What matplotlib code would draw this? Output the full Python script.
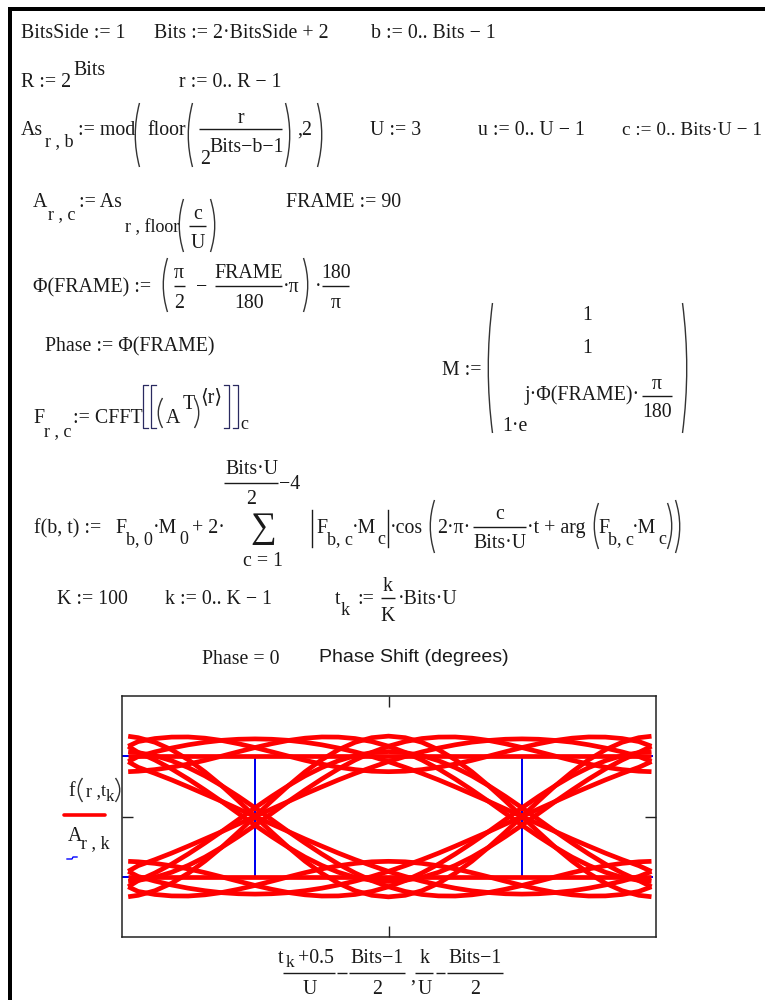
import matplotlib
matplotlib.use("Agg")
import matplotlib.pyplot as plt
from matplotlib.path import Path
from matplotlib.patches import PathPatch, Rectangle

plt.rcParams['font.family'] = ['Liberation Serif', 'DejaVu Serif', 'DejaVu Sans']

# ---- eye diagram values ----
x_grid = [-0.975, -0.9375, -0.875, -0.8125, -0.75, -0.6875, -0.625, -0.5625, -0.5,
          -0.4375, -0.375, -0.3125, -0.25, -0.1875, -0.125, -0.0625, 0.0,
          0.0625, 0.125, 0.1875, 0.25, 0.3125, 0.375, 0.4375, 0.5,
          0.5625, 0.625, 0.6875, 0.75, 0.8125, 0.875, 0.9375, 0.985]
f_0000 = [0.0] * 33
f_0001 = [-.083, -.122, -.147, -.159, -.160, -.150, -.131, -.104, -.072, -.037, -.001, .034, .065, .091, .111, .124, .128,
          .124, .111, .091, .065, .034, -.001, -.037, -.072, -.104, -.131, -.150, -.160, -.159, -.147, -.122, -.083]
f_0010 = [.128, .124, .111, .091, .065, .034, -.001, -.037, -.072, -.104, -.131, -.150, -.160, -.159, -.147, -.122, -.083,
          -.032, .031, .105, .189, .280, .375, .474, .572, .667, .756, .837, .906, .963, 1.005, 1.030, 1.039]
f_0011 = [.045, .002, -.036, -.068, -.095, -.116, -.132, -.141, -.144, -.141, -.132, -.116, -.095, -.068, -.036, .002, .045,
          .092, .142, .196, .254, .314, .374, .437, .500, .563, .625, .687, .746, .804, .858, .908, .956]
f_0100 = [-.083, -.032, .031, .105, .189, .280, .375, .474, .572, .667, .756, .837, .906, .963, 1.005, 1.030, 1.039,
          1.030, 1.005, .963, .906, .837, .756, .667, .572, .474, .375, .280, .189, .105, .031, -.032, -.083]
f_0101 = [-.166, -.154, -.116, -.054, .029, .130, .244, .370, .500, .630, .755, .871, .971, 1.054, 1.116, 1.154, 1.167,
          1.154, 1.116, 1.054, .971, .871, .755, .630, .500, .370, .244, .130, .029, -.054, -.116, -.154, -.166]
f_0110 = [.045, .092, .142, .196, .254, .314, .374, .437, .500, .563, .625, .687, .746, .804, .858, .908, .956,
          .998, 1.036, 1.068, 1.095, 1.117, 1.131, 1.141, 1.144, 1.141, 1.131, 1.117, 1.095, 1.068, 1.036, .998, .956]
f_0111 = [-.039, -.030, -.005, .037, .094, .163, .244, .333, .428, .526, .625, .720, .811, .895, .969, 1.032, 1.083,
          1.122, 1.147, 1.159, 1.160, 1.150, 1.131, 1.104, 1.072, 1.037, 1.001, .966, .935, .909, .889, .876, .872]
f_1000 = [1.039, 1.030, 1.005, .963, .906, .837, .756, .667, .572, .474, .375, .280, .189, .105, .031, -.032, -.083,
          -.122, -.147, -.159, -.160, -.150, -.131, -.104, -.072, -.037, -.001, .034, .065, .091, .111, .124, .128]
f_1001 = [.955, .908, .858, .804, .746, .686, .626, .563, .500, .437, .375, .313, .254, .196, .142, .092, .044,
          .002, -.036, -.068, -.095, -.117, -.131, -.141, -.144, -.141, -.131, -.117, -.095, -.068, -.036, .002, .044]
f_1010 = [1.166, 1.154, 1.116, 1.054, .971, .870, .756, .630, .500, .370, .245, .129, .029, -.054, -.116, -.154, -.167,
          -.154, -.116, -.054, .029, .129, .245, .370, .500, .630, .756, .870, .971, 1.054, 1.116, 1.154, 1.166]
f_1011 = [1.083, 1.032, .969, .895, .811, .720, .625, .526, .428, .333, .244, .163, .094, .037, -.005, -.030, -.039,
          -.030, -.005, .037, .094, .163, .244, .333, .428, .526, .625, .720, .811, .895, .969, 1.032, 1.083]
f_1100 = [.955, .998, 1.036, 1.068, 1.095, 1.116, 1.132, 1.141, 1.144, 1.141, 1.132, 1.116, 1.095, 1.068, 1.036, .998, .955,
          .908, .858, .804, .746, .686, .626, .563, .500, .437, .375, .313, .254, .196, .142, .092, .044]
f_1101 = [.872, .876, .889, .909, .935, .966, 1.001, 1.037, 1.072, 1.104, 1.131, 1.150, 1.160, 1.159, 1.147, 1.122, 1.083,
          1.032, .969, .895, .811, .720, .625, .526, .428, .333, .244, .163, .094, .037, -.005, -.030, -.039]
f_1110 = [1.083, 1.122, 1.147, 1.159, 1.160, 1.150, 1.131, 1.104, 1.072, 1.037, 1.001, .966, .935, .909, .889, .876, .872,
          .876, .889, .909, .935, .966, 1.001, 1.037, 1.072, 1.104, 1.131, 1.150, 1.160, 1.159, 1.147, 1.122, 1.083]
f_1111 = [1.0] * 33
red_traces = [f_0000, f_0001, f_0010, f_0011, f_0100, f_0101, f_0110, f_0111,
              f_1000, f_1001, f_1010, f_1011, f_1100, f_1101, f_1110, f_1111]

step_edges = [-1.0, -0.5, 0.5, 0.99]
step_levels = [[0, 0, 0], [0, 0, 1], [0, 1, 0], [0, 1, 1],
               [1, 0, 0], [1, 0, 1], [1, 1, 0], [1, 1, 1]]

x_limits = [-1.0, 1.0]
y_limits = [-0.5, 1.5]
x_ticks = [0.0]
y_ticks = [0.5]

W, H = 765, 1000
fig = plt.figure(figsize=(W / 100, H / 100), dpi=100, facecolor='white')

page = fig.add_axes([0, 0, 1, 1])
page.set_xlim(0, W)
page.set_ylim(H, 0)
page.axis('off')

INK = '#1a1a1a'
FS = 14.3
SUB = 13


def T(x, y, s, ha='left', size=FS, **kw):
    kw.setdefault('color', INK)
    page.text(x, y + 6, s, ha=ha, va='baseline', fontsize=size, **kw)


def bar(x0, x1, y, lw=1.0):
    page.plot([x0, x1], [y, y], color=INK, lw=lw, solid_capstyle='butt')


def paren(x, y0, y1, left=True):
    bow = -5 if left else 5
    verts = [(x - bow / 2, y0), (x + bow * 1.2, (y0 + y1) / 2), (x - bow / 2, y1)]
    page.add_patch(PathPatch(Path(verts, [Path.MOVETO, Path.CURVE3, Path.CURVE3]),
                             fill=False, ec='#333333', lw=1.0))


def bracket(x, y0, y1, left=True):
    d = 5 if left else -5
    page.plot([x + d, x, x, x + d], [y0, y0, y1, y1], color='#2a2a60', lw=0.9)


page.add_patch(Rectangle((8, 7), W, 4, fc='black', ec='none'))
page.add_patch(Rectangle((8, 7), 4, H, fc='black', ec='none'))

# line 1
T(21, 32, 'BitsSide := 1')
T(154, 32, 'Bits := 2·BitsSide + 2')
T(371, 32, 'b := 0.. Bits − 1')
# line 2
T(21, 81, 'R := 2')
T(73, 69, 'Bits')
T(179, 81, 'r := 0.. R − 1')
# line 3
T(21, 129, 'As')
T(45, 140, 'r , b', size=SUB)
T(78, 129, ':= mod')
paren(137, 103, 167)
T(147, 129, 'floor')
paren(190, 103, 167)
T(241, 117, 'r', ha='center')
bar(199, 282, 129)
T(200, 158, '2')
T(209, 146, 'Bits−b−1')
paren(288, 103, 167, False)
T(297, 129, ',2')
paren(320, 103, 167, False)
T(370, 129, 'U := 3')
T(478, 129, 'u := 0.. U − 1')
T(622, 129, 'c := 0.. Bits·U − 1', size=13.9)
# line 4
T(33, 201, 'A')
T(48, 213, 'r , c', size=SUB)
T(79, 201, ':= As')
T(125, 226, 'r , floor', size=SUB)
paren(181, 199, 252)
T(198, 213, 'c', ha='center')
bar(189, 206, 226)
T(198, 242, 'U', ha='center')
paren(213, 199, 252, False)
T(286, 201, 'FRAME := 90')
# line 5
T(33, 286, 'Φ(FRAME) :=')
paren(165, 258, 312)
T(179, 272, 'π', ha='center')
bar(174, 185, 286)
T(179, 302, '2', ha='center')
T(196, 286, '−')
T(249, 272, 'FRAME', ha='center')
bar(215, 282, 286)
T(249, 302, '180', ha='center')
T(283, 286, '·π')
paren(306, 258, 312, False)
T(315, 286, '·')
T(336, 272, '180', ha='center')
bar(322, 349, 286)
T(336, 302, 'π', ha='center')
# line 6
T(45, 345, 'Phase := Φ(FRAME)')
T(442, 369, 'M :=')
paren(490, 303, 433)
paren(685, 303, 433, False)
T(587, 314, '1', ha='center')
T(587, 347, '1', ha='center')
T(502, 425, '1·e')
T(525, 394, 'j·Φ(FRAME)·')
T(657, 383, 'π', ha='center')
bar(642, 672, 396)
T(657, 411, '180', ha='center')
# line 7
T(33, 417, 'F')
T(44, 430, 'r , c', size=SUB)
T(73, 417, ':= CFFT')
bracket(143, 385, 428)
bracket(151, 385, 428)
paren(160, 398, 428)
T(166, 417, 'A')
T(183, 403, 'T')
paren(197, 398, 428, False)
T(200, 396, '⟨r⟩')
bracket(229, 385, 428, False)
bracket(238, 385, 428, False)
T(240, 423, 'c', size=SUB)
# line 8
T(34, 527, 'f(b, t) :=')
T(115, 527, 'F')
T(126, 538, 'b, 0', size=SUB)
T(153, 527, '·M')
T(179, 538, '0', size=SUB)
T(192, 527, '+ 2·')
T(252, 468, 'Bits·U', ha='center')
bar(224, 278, 483)
T(251, 498, '2', ha='center')
T(279, 483, '−4')
T(263, 531, '∑', ha='center', size=26)
T(263, 560, 'c = 1', ha='center')
page.plot([312, 312], [510, 547], color=INK, lw=1.0)
T(316, 527, 'F')
T(327, 538, 'b, c', size=SUB)
T(352, 527, '·M')
T(377, 538, 'c', size=SUB)
page.plot([388, 388], [510, 547], color=INK, lw=1.0)
T(390, 527, '·cos')
paren(432, 500, 553)
T(437, 527, '2·π·')
T(500, 513, 'c', ha='center')
bar(473, 526, 527)
T(500, 542, 'Bits·U', ha='center')
T(527, 527, '·t + arg')
paren(596, 503, 549)
T(598, 527, 'F')
T(608, 538, 'b, c', size=SUB)
T(632, 527, '·M')
T(658, 538, 'c', size=SUB)
paren(670, 503, 549, False)
paren(678, 500, 553, False)
# line 9
T(57, 598, 'K := 100')
T(165, 598, 'k := 0.. K − 1')
T(335, 598, 't')
T(341, 609, 'k', size=SUB)
T(357, 598, ':=')
T(388, 585, 'k', ha='center')
bar(381, 395, 598)
T(388, 615, 'K', ha='center')
T(398, 598, '·Bits·U')
# line 10
T(202, 658, 'Phase = 0')
T(319, 656, 'Phase Shift (degrees)', size=14, family=['Liberation Sans'])

# legend of the plot
T(68, 790, 'f')
paren(80, 778, 802)
T(86, 790, 'r ,', size=13)
T(101, 790, 't', size=13)
T(106, 795, 'k', size=12)
paren(118, 778, 802, False)
page.plot([64, 105], [815, 815], color='#ff0000', lw=2.6, solid_capstyle='round')
T(68, 835, 'A')
T(81, 842, 'r , k', size=SUB)
page.plot([67, 72, 73, 77], [859, 859, 857, 857], color='#0000ff', lw=1.0)
# x-axis label of the plot
T(278, 957, 't')
T(286, 961, 'k', size=12.5)
T(298, 957, '+0.5')
bar(283, 335, 973)
T(310, 988, 'U', ha='center')
bar(337, 347, 973)
T(377, 957, 'Bits−1', ha='center')
bar(349, 405, 973)
T(377, 988, '2', ha='center')
T(410, 976, ',')
T(425, 957, 'k', ha='center')
bar(415, 433, 973)
T(425, 988, 'U', ha='center')
bar(436, 445, 973)
T(475, 957, 'Bits−1', ha='center')
bar(447, 503, 973)
T(475, 988, '2', ha='center')

# the eye diagram
L, R, TOP, BOT = 121.5, 655.5, 696, 937
ax = fig.add_axes([L / W, 1 - BOT / H, (R - L) / W, (BOT - TOP) / H])
for trace in red_traces:
    ax.plot(x_grid, trace, color='#ff0000', lw=3.4, solid_joinstyle='round', solid_capstyle='butt')
for row in step_levels:
    ax.stairs(row, step_edges, baseline=None, color='#0000ee', lw=1.1)
ax.set_xlim(x_limits)
ax.set_ylim(y_limits)
ax.set_xticks(x_ticks)
ax.set_yticks(y_ticks)
ax.set_xticklabels([])
ax.set_yticklabels([])
ax.tick_params(direction='in', length=8, width=1.0, top=True, right=True, color='#222222')
for s in ax.spines.values():
    s.set_linewidth(1.1)
    s.set_color('#222222')
ax.patch.set_alpha(0)

fig.savefig('out.png', dpi=100)
